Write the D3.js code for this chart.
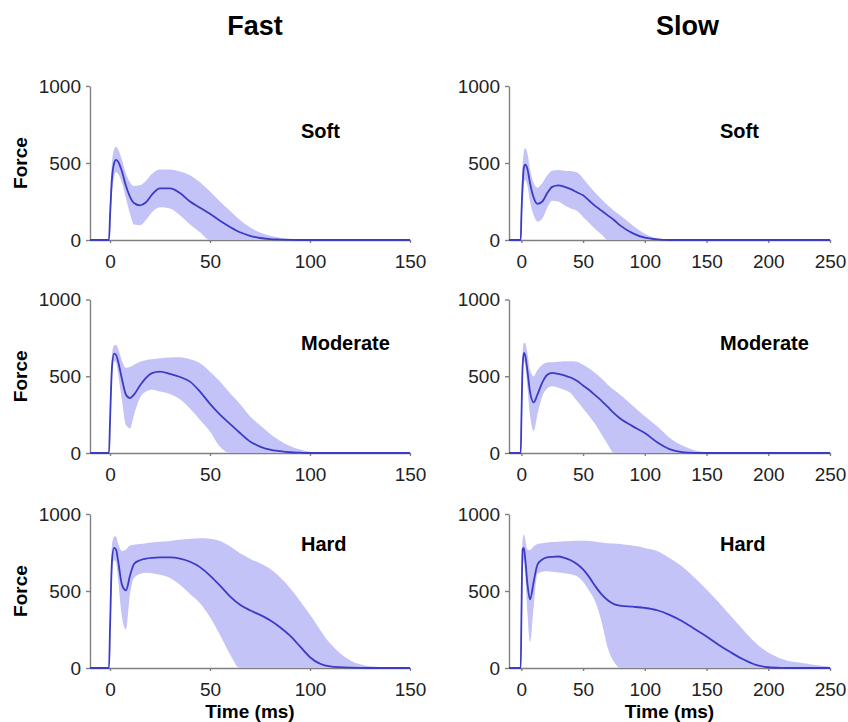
<!DOCTYPE html>
<meta charset="utf-8">
<style>
body { margin: 0; background: #fff; }
svg { font-family: "Liberation Sans", Arial, sans-serif; }
.axis path, .axis line { stroke: #808080; stroke-width: 1.4; }
.axis text { fill: #222; font-size: 19px; }
</style>
<svg width="848" height="722"></svg>
<script src="https://cdn.jsdelivr.net/npm/d3@7"></script>
<script>

// time grids (ms)
var fastT = [-10, -0.5, 0, 1, 2, 3, 4, 6, 8, 10, 12, 15, 18, 21, 25, 30, 35, 40, 45, 50, 55, 60, 65, 70, 75, 80, 85, 90, 95, 100, 110, 120, 130, 150];
var slowT = [-10, -0.5, 0, 1, 2, 3, 5, 7, 10, 13, 17, 21, 25, 30, 35, 40, 45, 50, 55, 60, 65, 70, 75, 80, 90, 100, 110, 120, 130, 140, 150, 160, 170, 180, 190, 200, 210, 220, 230, 240, 250];

// Fast
var fastSoftMean = [0, 0, 150, 400, 495, 520, 510, 445, 350, 280, 240, 225, 245, 295, 335, 335, 305, 250, 210, 170, 125, 85, 50, 27, 13, 6, 3, 1, 0, 0, 0, 0, 0, 0];
var fastSoftHi   = [0, 0, 250, 500, 585, 605, 590, 520, 430, 375, 350, 355, 385, 430, 458, 458, 445, 420, 375, 315, 250, 190, 130, 82, 48, 27, 15, 8, 4, 2, 0, 0, 0, 0];
var fastSoftLo   = [0, 0, 60, 300, 405, 440, 430, 370, 270, 170, 100, 95, 130, 180, 212, 205, 160, 100, 50, 0, 0, 0, 0, 0, 0, 0, 0, 0, 0, 0, 0, 0, 0, 0];

var fastModMean = [0, 0, 200, 560, 648, 640, 600, 480, 380, 358, 380, 440, 490, 520, 530, 515, 495, 465, 400, 320, 250, 190, 130, 75, 42, 22, 12, 5, 2, 0, 0, 0, 0, 0];
var fastModHi   = [0, 0, 280, 640, 700, 705, 680, 600, 555, 560, 575, 595, 605, 610, 618, 622, 623, 610, 585, 530, 465, 390, 320, 240, 180, 125, 80, 45, 22, 8, 0, 0, 0, 0];
var fastModLo   = [0, 0, 120, 480, 600, 590, 520, 340, 180, 160, 250, 360, 400, 412, 400, 385, 350, 290, 215, 140, 40, 0, 0, 0, 0, 0, 0, 0, 0, 0, 0, 0, 0, 0];

var fastHardMean = [0, 0, 250, 700, 780, 770, 700, 540, 505, 600, 675, 700, 710, 715, 718, 718, 710, 690, 655, 600, 535, 465, 410, 375, 345, 310, 265, 210, 140, 70, 10, 2, 0, 0];
var fastHardHi   = [0, 0, 350, 800, 850, 855, 810, 760, 770, 795, 800, 805, 810, 815, 820, 825, 832, 840, 843, 840, 825, 790, 745, 710, 680, 645, 590, 520, 435, 345, 160, 50, 12, 0];
var fastHardLo   = [0, 0, 150, 600, 700, 690, 580, 330, 250, 480, 585, 610, 618, 615, 605, 585, 540, 480, 420, 330, 215, 90, 0, 0, 0, 0, 0, 0, 0, 0, 0, 0, 0, 0];

// Slow
var slowSoftMean = [0, 0, 150, 350, 470, 490, 460, 370, 275, 235, 250, 305, 345, 355, 345, 330, 310, 290, 255, 220, 190, 160, 130, 95, 45, 15, 4, 0, 0, 0, 0, 0, 0, 0, 0, 0, 0, 0, 0, 0, 0];
var slowSoftHi   = [0, 0, 250, 480, 570, 595, 560, 460, 370, 340, 370, 420, 450, 455, 450, 448, 440, 400, 350, 305, 265, 225, 190, 160, 95, 40, 10, 3, 0, 0, 0, 0, 0, 0, 0, 0, 0, 0, 0, 0, 0];
var slowSoftLo   = [0, 0, 60, 250, 360, 390, 350, 250, 160, 120, 140, 210, 255, 250, 225, 205, 190, 150, 110, 70, 35, 0, 0, 0, 0, 0, 0, 0, 0, 0, 0, 0, 0, 0, 0, 0, 0, 0, 0, 0, 0];

var slowModMean = [0, 0, 200, 560, 652, 640, 530, 400, 330, 380, 460, 510, 522, 515, 505, 492, 470, 440, 410, 375, 340, 300, 260, 225, 175, 130, 70, 25, 6, 1, 0, 0, 0, 0, 0, 0, 0, 0, 0, 0, 0];
var slowModHi   = [0, 0, 300, 650, 715, 717, 650, 540, 500, 540, 575, 590, 592, 595, 598, 598, 595, 575, 550, 520, 485, 445, 410, 380, 310, 240, 174, 100, 50, 18, 5, 0, 0, 0, 0, 0, 0, 0, 0, 0, 0];
var slowModLo   = [0, 0, 120, 480, 600, 580, 420, 250, 145, 250, 370, 420, 435, 425, 410, 390, 340, 290, 240, 185, 120, 55, 0, 0, 0, 0, 0, 0, 0, 0, 0, 0, 0, 0, 0, 0, 0, 0, 0, 0, 0];

var slowHardMean = [0, 0, 300, 770, 780, 720, 540, 445, 560, 670, 705, 718, 722, 724, 715, 700, 675, 640, 590, 530, 478, 440, 415, 405, 398, 390, 375, 345, 305, 255, 205, 150, 100, 55, 20, 5, 1, 0, 0, 0, 0];
var slowHardHi   = [0, 0, 400, 830, 868, 840, 770, 765, 790, 805, 810, 815, 818, 820, 823, 825, 826, 826, 825, 820, 815, 810, 808, 805, 795, 780, 760, 715, 660, 590, 510, 425, 335, 245, 160, 100, 62, 40, 30, 18, 8];
var slowHardLo   = [0, 0, 150, 600, 700, 620, 350, 170, 400, 610, 625, 628, 625, 620, 615, 608, 595, 560, 500, 430, 300, 130, 40, 0, 0, 0, 0, 0, 0, 0, 0, 0, 0, 0, 0, 0, 0, 0, 0, 0, 0];

var colTitles = ["Fast", "Slow"];
var rowLabels = ["Soft", "Moderate", "Hard"];
var xTicksFast = [0, 50, 100, 150];
var xTicksSlow = [0, 50, 100, 150, 200, 250];
var yTicks = [0, 500, 1000];

var panels = [
  { col: 0, row: 0, t: fastT, mean: fastSoftMean, hi: fastSoftHi, lo: fastSoftLo },
  { col: 0, row: 1, t: fastT, mean: fastModMean, hi: fastModHi, lo: fastModLo },
  { col: 0, row: 2, t: fastT, mean: fastHardMean, hi: fastHardHi, lo: fastHardLo },
  { col: 1, row: 0, t: slowT, mean: slowSoftMean, hi: slowSoftHi, lo: slowSoftLo },
  { col: 1, row: 1, t: slowT, mean: slowModMean, hi: slowModHi, lo: slowModLo },
  { col: 1, row: 2, t: slowT, mean: slowHardMean, hi: slowHardHi, lo: slowHardLo }
];

// layout
var cols = [
  { x0: 90, x1: 410, domain: [-10, 150], ticks: xTicksFast },
  { x0: 509, x1: 830, domain: [-10, 250], ticks: xTicksSlow }
];
var rows = [
  { y0: 240, y1: 86, labelAt: 660 },
  { y0: 453, y1: 299.5, labelAt: 670 },
  { y0: 668, y1: 514, labelAt: 760 }
];

var svg = d3.select("svg");

colTitles.forEach(function(name, i) {
  var c = cols[i];
  svg.append("text")
      .attr("x", (c.x0 + c.x1) / 2 + (i ? 18 : 5))
      .attr("y", 35)
      .attr("text-anchor", "middle")
      .style("font-size", "27px")
      .style("font-weight", "bold")
      .text(name);
});

panels.forEach(function(p) {
  var c = cols[p.col], r = rows[p.row];
  var x = d3.scaleLinear().domain(c.domain).range([c.x0, c.x1]);
  var y = d3.scaleLinear().domain([0, 1000]).range([r.y0, r.y1]);
  var g = svg.append("g");

  g.append("g")
      .attr("class", "axis")
      .attr("transform", "translate(0," + r.y0 + ")")
      .call(d3.axisBottom(x).tickValues(c.ticks).tickSize(3).tickSizeOuter(0).tickPadding(12));

  g.append("g")
      .attr("class", "axis")
      .attr("transform", "translate(" + c.x0 + ",0)")
      .call(d3.axisLeft(y).tickValues(yTicks).tickFormat(d3.format("d")).tickSize(4).tickSizeOuter(0).tickPadding(5));

  var pts = p.t.map(function(t, i) { return { t: t, m: p.mean[i], hi: p.hi[i], lo: p.lo[i] }; });

  g.append("path")
      .datum(pts)
      .attr("fill", "#c3c3f7")
      .attr("d", d3.area()
        .curve(d3.curveMonotoneX)
        .x(function(d) { return x(d.t); })
        .y0(function(d) { return y(d.lo); })
        .y1(function(d) { return y(d.hi); }));

  g.append("path")
      .datum(pts)
      .attr("fill", "none")
      .attr("stroke", "#3b3bc6")
      .attr("stroke-width", 1.8)
      .attr("d", d3.line()
        .curve(d3.curveMonotoneX)
        .x(function(d) { return x(d.t); })
        .y(function(d) { return y(d.m); }));

  g.append("text")
      .attr("x", c.x0 + 211)
      .attr("y", y(r.labelAt))
      .style("font-size", "20px")
      .style("font-weight", "bold")
      .text(rowLabels[p.row]);

  if (p.col === 0) {
    g.append("text")
        .attr("transform", "translate(27," + y(500) + ") rotate(-90)")
        .attr("text-anchor", "middle")
        .style("font-size", "19px")
        .style("font-weight", "bold")
        .text("Force");
  }

  if (p.row === 2) {
    g.append("text")
        .attr("x", (c.x0 + c.x1) / 2)
        .attr("y", 718)
        .attr("text-anchor", "middle")
        .style("font-size", "19px")
        .style("font-weight", "bold")
        .text("Time (ms)");
  }
});

</script>
